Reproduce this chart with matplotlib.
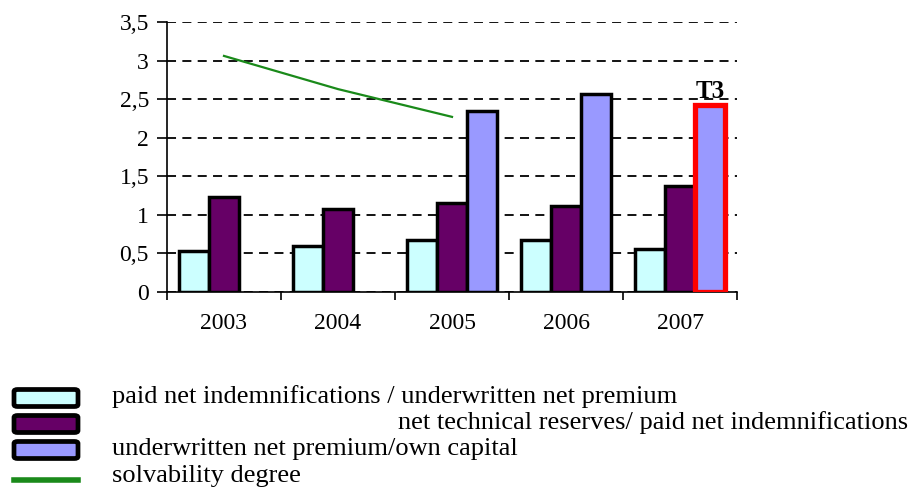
import matplotlib.pyplot as plt
import matplotlib.patches as mpatches
from matplotlib.lines import Line2D
import numpy as np

plt.rcParams['font.family'] = ['Liberation Serif', 'DejaVu Serif']

years = ["2003", "2004", "2005", "2006", "2007"]
paid_vs_premium = [0.53, 0.60, 0.67, 0.67, 0.56]
reserves_vs_paid = [1.23, 1.07, 1.15, 1.12, 1.37]
premium_vs_capital = [np.nan, np.nan, 2.35, 2.56, 2.42]
solvability = [3.06, 2.63, 2.27, np.nan, np.nan]

labels = ["paid net indemnifications / underwritten net premium",
          "net technical reserves/ paid net indemnifications",
          "underwritten net premium/own capital",
          "solvability degree"]
colors = ["#ccffff", "#660066", "#9999ff"]
green = "#1a8a1a"

fig = plt.figure(figsize=(9.19, 5.03), dpi=100)
ax = fig.add_axes([0.1817, 0.4195, 0.6203, 0.5368])

x = np.arange(len(years))
w = 0.263
series = [paid_vs_premium, reserves_vs_paid, premium_vs_capital]
for i, vals in enumerate(series):
    bars = ax.bar(x + (i - 1) * w, vals, w, color=colors[i],
                  edgecolor="black", linewidth=2.5, zorder=3)
    if i == 2:
        bars[-1].set_edgecolor("red")
        bars[-1].set_linewidth(3.8)
        bars[-1].set_zorder(4)

ax.plot(x, solvability, color=green, linewidth=1.6, zorder=5)

ax.text(x[-1] + w, premium_vs_capital[-1] + 0.09, "T3", ha="center",
        va="baseline", fontsize=18, fontweight="bold", zorder=6)

ax.set_xlim(-0.5, len(years) - 0.5)
ax.set_ylim(0, 3.5)
ax.set_yticks(np.arange(0, 3.51, 0.5))
ax.set_yticklabels(["0", "0,5", "1", "1,5", "2", "2,5", "3", "3,5"])
ax.set_xticks(x)
ax.set_xticklabels(years)
ax.set_xticks(np.arange(-0.5, len(years)), minor=True)
ax.tick_params(axis="x", which="major", length=0, pad=15, labelsize=17)
ax.tick_params(axis="x", which="minor", length=6, width=1.2, direction="out")
ax.tick_params(axis="y", length=7, width=1.2, labelsize=17, pad=6)
ax.yaxis.grid(True, linestyle=(0, (5, 3.5)), color="black", linewidth=1.3, zorder=0)
ax.set_axisbelow(True)
for s in ["top", "right"]:
    ax.spines[s].set_visible(False)
for s in ["left", "bottom"]:
    ax.spines[s].set_linewidth(1.2)

# legend drawn by hand
rows_y = [1 - 397 / 503, 1 - 423 / 503, 1 - 449 / 503, 1 - 476 / 503]
text_x = [112 / 919, 398 / 919, 112 / 919, 112 / 919]
pw, ph = 64 / 919, 17 / 503
for i in range(3):
    fig.add_artist(mpatches.FancyBboxPatch(
        (14 / 919, rows_y[i] - ph / 2 - 1 / 503), pw, ph,
        boxstyle="round,pad=0,rounding_size=0.004",
        facecolor=colors[i], edgecolor="black", linewidth=3.4,
        transform=fig.transFigure))
fig.add_artist(Line2D([14 / 919, 78 / 919], [1 - 480 / 503] * 2,
                      color=green, linewidth=4, transform=fig.transFigure))
for lab, tx, ty in zip(labels, text_x, rows_y):
    fig.text(tx, ty, lab, fontsize=19, va="center", ha="left")

fig.savefig("out.png", dpi=100)
